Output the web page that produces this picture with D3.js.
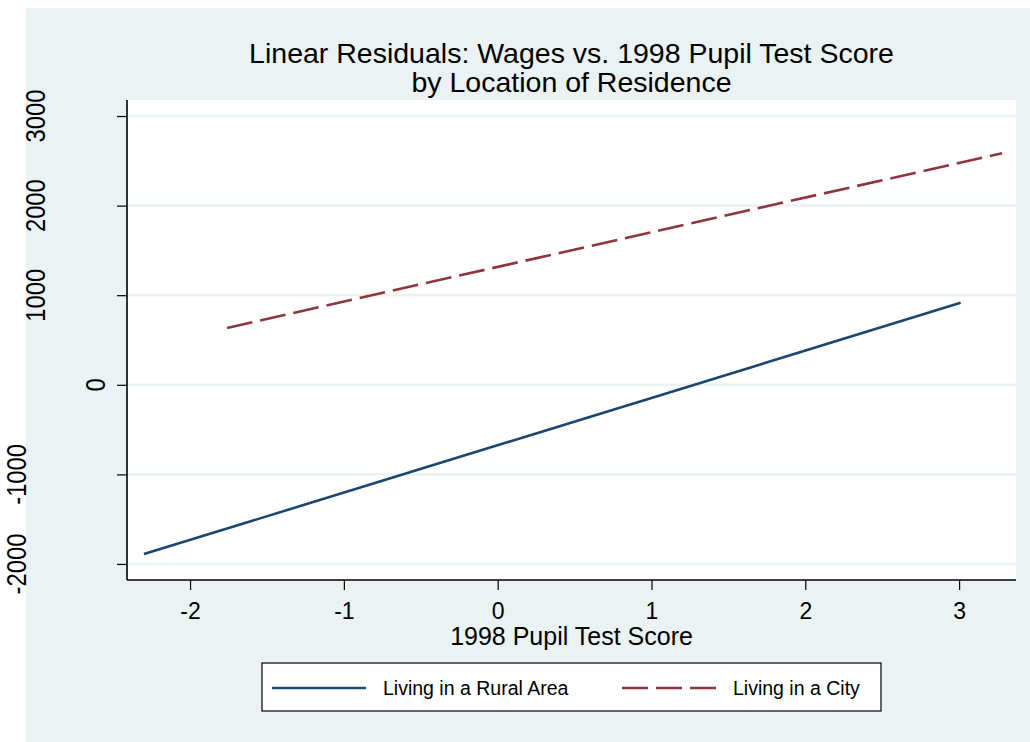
<!DOCTYPE html>
<html>
<head>
<meta charset="utf-8">
<script src="https://cdn.jsdelivr.net/npm/d3@7/dist/d3.min.js"></script>
<style>
  html, body { margin: 0; padding: 0; background: #ffffff; }
  svg { display: block; }
  text { font-family: "Liberation Sans", Arial, Helvetica, sans-serif; fill: #000; }
</style>
</head>
<body>
<script>
// ---- data ----
const titleLines = ["Linear Residuals: Wages vs. 1998 Pupil Test Score", "by Location of Residence"];
const xTitle = "1998 Pupil Test Score";
const xTicks = [-2, -1, 0, 1, 2, 3];
const yTicks = [-2000, -1000, 0, 1000, 2000, 3000];
const seriesNames = ["Living in a Rural Area", "Living in a City"];
const ruralX = [-2.30, 3.01];
const ruralY = [-1890, 915];
const cityX = [-1.76, 3.28];
const cityY = [635, 2585];

// ---- layout ----
const W = 1030, H = 742;
const bg = "#eaf2f3";
const colors = ["#1a476f", "#90353b"];
const plot = { left: 127, right: 1016, top: 100, bottom: 580 };
const fmt = d => String(d); // plain hyphen-minus, as in the reference

const svg = d3.select("body").append("svg").attr("width", W).attr("height", H);

svg.append("rect").attr("x", 26).attr("y", 8).attr("width", W - 26).attr("height", H - 8).attr("fill", bg);
svg.append("rect").attr("x", plot.left).attr("y", plot.top)
  .attr("width", plot.right - plot.left).attr("height", plot.bottom - plot.top).attr("fill", "#fff");

const x = d3.scaleLinear().domain([-2.41, 3.37]).range([plot.left, plot.right]);
const y = d3.scaleLinear().domain([-2179, 3179]).range([plot.bottom, plot.top]);

// gridlines
svg.append("g").selectAll("line").data(yTicks).join("line")
  .attr("x1", plot.left).attr("x2", plot.right)
  .attr("y1", d => y(d)).attr("y2", d => y(d))
  .attr("stroke", bg).attr("stroke-width", 2.5);

// series lines
const line = d3.line().x(d => x(d[0])).y(d => y(d[1]));
const rural = ruralX.map((v, i) => [v, ruralY[i]]);
const city = cityX.map((v, i) => [v, cityY[i]]);
svg.append("path").datum(rural).attr("d", line).attr("fill", "none")
  .attr("stroke", colors[0]).attr("stroke-width", 2.6);
svg.append("path").datum(city).attr("d", line).attr("fill", "none")
  .attr("stroke", colors[1]).attr("stroke-width", 2.6).attr("stroke-dasharray", "26,8");

// axes
const xAxis = svg.append("g").attr("transform", `translate(0,${plot.bottom})`)
  .call(d3.axisBottom(x).tickValues(xTicks).tickSize(10).tickPadding(12).tickFormat(fmt));
xAxis.attr("font-size", null).attr("font-family", null);
xAxis.select(".domain").attr("d", `M${plot.left},0H${plot.right}`).attr("stroke", "#000").attr("stroke-width", 1.6);
xAxis.selectAll(".tick line").attr("stroke", "#000").attr("stroke-width", 1.2);
xAxis.selectAll(".tick text").attr("font-size", 23).attr("fill", "#000")
  .attr("y", 39).attr("dy", null);

const yAxis = svg.append("g").attr("transform", `translate(${plot.left},0)`)
  .call(d3.axisLeft(y).tickValues(yTicks).tickSize(10).tickFormat(() => ""));
yAxis.select(".domain").attr("d", `M0,${plot.top}V${plot.bottom}`).attr("stroke", "#000").attr("stroke-width", 1.6);
yAxis.selectAll(".tick line").attr("stroke", "#000").attr("stroke-width", 1.2);

// rotated y labels (placement follows the reference's quirky offsets, which depend on label length)
const squeeze = 0.85;
svg.append("g").selectAll("text").data(yTicks).join("text")
  .attr("font-size", 28).attr("text-anchor", "middle")
  .text(fmt)
  .each(function (d) {
    const w = this.getComputedTextLength() * squeeze;
    const bx = 125 - 1.51 * w - (d < 0 ? 7 : 0);
    d3.select(this).attr("transform", `translate(${bx},${y(d)}) rotate(-90) scale(${squeeze},1)`);
  });

// titles
svg.append("g").selectAll("text").data(titleLines).join("text")
  .attr("x", (plot.left + plot.right) / 2).attr("y", (d, i) => 63 + i * 29)
  .attr("text-anchor", "middle").attr("font-size", 28.5).text(d => d);

svg.append("text").attr("x", (plot.left + plot.right) / 2).attr("y", 645)
  .attr("text-anchor", "middle").attr("font-size", 25).text(xTitle);

// legend
const leg = svg.append("g");
leg.append("rect").attr("x", 262).attr("y", 663).attr("width", 619).attr("height", 48)
  .attr("fill", "#fff").attr("stroke", "#000").attr("stroke-width", 1.2);
const legItems = [
  { name: seriesNames[0], color: colors[0], dash: null, x0: 272 },
  { name: seriesNames[1], color: colors[1], dash: "26,8", x0: 622 }
];
legItems.forEach(it => {
  leg.append("line").attr("x1", it.x0).attr("x2", it.x0 + 94).attr("y1", 688).attr("y2", 688)
    .attr("stroke", it.color).attr("stroke-width", 2.6).attr("stroke-dasharray", it.dash);
  leg.append("text").attr("x", it.x0 + 111).attr("y", 695).attr("font-size", 19.5).text(it.name);
});
</script>
</body>
</html>
